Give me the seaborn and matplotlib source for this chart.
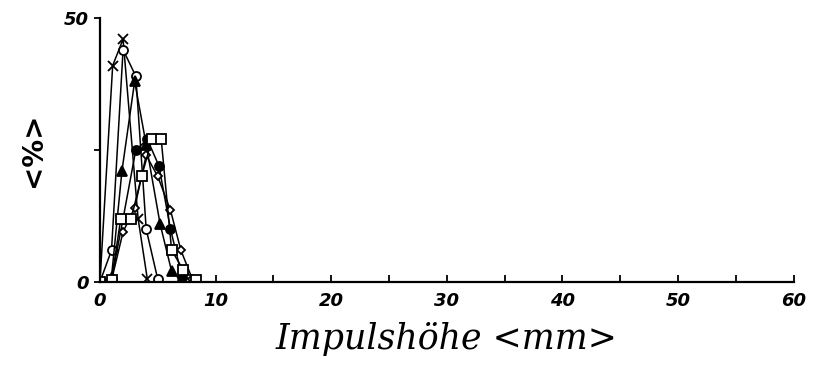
import pandas as pd
import matplotlib
matplotlib.use("Agg")
import matplotlib.pyplot as plt
import seaborn as sns

sns.set_style("ticks")
plt.rcParams["text.color"] = "black"
plt.rcParams["xtick.color"] = "black"
plt.rcParams["ytick.color"] = "black"
plt.rcParams["axes.labelcolor"] = "black"

# Impulshöhe (mm) und Anteil (%) je Messreihe
x_kreuz = [0, 1.1, 2.0, 3.3, 4.1]
y_kreuz = [0, 41, 46, 12, 0.5]

x_kreis = [0, 1.0, 2.0, 3.1, 4.0, 5.0]
y_kreis = [0, 6, 44, 39, 10, 0.5]

x_dreieck = [0, 1.0, 1.9, 3.0, 4.0, 5.2, 6.2, 7.0]
y_dreieck = [0, 1, 21, 38, 26, 11, 2, 0.3]

x_punkt = [0, 1.0, 2.0, 3.1, 4.1, 5.1, 6.1, 7.1]
y_punkt = [0, 0.5, 12, 25, 27, 22, 10, 1]

x_raute = [0, 1.0, 2.0, 3.0, 4.0, 5.0, 6.1, 7.0, 8.0]
y_raute = [0, 0.3, 9.5, 14, 24, 20, 13.6, 6, 0.5]

x_quadrat = [0, 1.0, 1.8, 2.7, 3.6, 4.5, 5.3, 6.2, 7.2, 8.3]
y_quadrat = [0, 0.3, 12, 12, 20, 27, 27, 6, 2.3, 0.3]

reihen = [
    (x_kreuz, y_kreuz, "x", "black"),
    (x_kreis, y_kreis, "o", "white"),
    (x_dreieck, y_dreieck, "^", "black"),
    (x_punkt, y_punkt, "o", "black"),
    (x_raute, y_raute, "D", "white"),
    (x_quadrat, y_quadrat, "s", "white"),
]

fig = plt.figure(figsize=(8.16, 3.69), dpi=100)
ax = fig.add_axes([0.1225, 0.236, 0.85, 0.715])

for xs, ys, m, fc in reihen:
    df = pd.DataFrame({"x": xs, "y": ys})
    groesse = 4.5 if m == "D" else 6.5
    sns.lineplot(data=df, x="x", y="y", ax=ax, color="black", lw=1.1,
                 marker=m, markersize=groesse, markerfacecolor=fc,
                 markeredgecolor="black", markeredgewidth=1.3,
                 sort=False, legend=False)

ax.set_xlim(0, 60)
ax.set_ylim(0, 50)
ax.set_xticks([0, 10, 20, 30, 40, 50, 60])
ax.set_xticks([5, 15, 25, 35, 45, 55], minor=True)
ax.set_yticks([0, 25, 50])
ax.set_yticklabels(["0", "", "50"])

for lab in ax.get_xticklabels() + ax.get_yticklabels():
    lab.set_fontfamily("DejaVu Sans")
    lab.set_fontweight("heavy")
    lab.set_fontstyle("italic")
    lab.set_fontsize(13)
    lab.set_color("black")

ax.tick_params(axis="x", which="both", direction="in", length=5, width=1.3,
               pad=7, colors="black")
ax.tick_params(axis="y", direction="out", length=4, width=1.3, pad=4,
               colors="black")

sns.despine(ax=ax)
for s in ["left", "bottom"]:
    ax.spines[s].set_linewidth(1.6)
    ax.spines[s].set_color("black")

ax.set_xlabel("Impulshöhe <mm>", family="DejaVu Serif", style="italic",
              fontsize=25, labelpad=9, color="black")
ax.set_ylabel("<%>", family="DejaVu Sans", weight="bold", fontsize=20,
              labelpad=12, color="black")

fig.savefig("out.png", dpi=100)
